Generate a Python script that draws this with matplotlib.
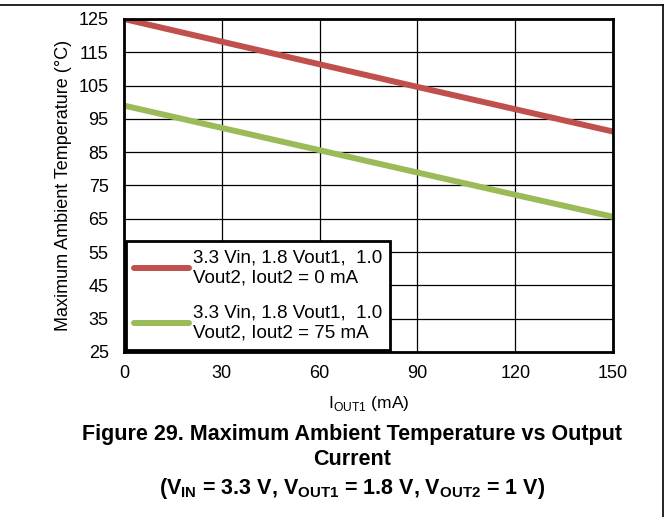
import numpy as np
import matplotlib
matplotlib.use('Agg')
import matplotlib.pyplot as plt
from matplotlib.lines import Line2D

plt.rcParams['font.family'] = ['Liberation Sans', 'DejaVu Sans']
plt.rcParams['mathtext.fontset'] = 'custom'
plt.rcParams['mathtext.rm'] = 'Liberation Sans'
plt.rcParams['mathtext.bf'] = 'Liberation Sans:bold'

# data
iout1 = [0, 30, 60, 90, 120, 150]
temp_0ma = [125, 118.2, 111.4, 104.6, 97.9, 91.2]
temp_75ma = [99, 92.3, 85.6, 78.9, 72.2, 65.6]
labels = ['3.3 Vin, 1.8 Vout1,  1.0\nVout2, Iout2 = 0 mA',
          '3.3 Vin, 1.8 Vout1,  1.0\nVout2, Iout2 = 75 mA']
xticks = [0, 30, 60, 90, 120, 150]
yticks = [25, 35, 45, 55, 65, 75, 85, 95, 105, 115, 125]

fig = plt.figure(figsize=(6.69, 5.17), dpi=100)
ax = fig.add_axes([124 / 669, 1 - 352 / 517, 489 / 669, 333 / 517])

ax.plot(iout1, temp_0ma, color='#C0504D', lw=4.3, solid_capstyle='butt', label=labels[0], zorder=3)
ax.plot(iout1, temp_75ma, color='#9BBB59', lw=4.3, solid_capstyle='butt', label=labels[1], zorder=3)

ax.set_xlim(0, 150)
ax.set_ylim(25, 125)
ax.set_xticks(xticks)
ax.set_yticks(yticks)
ax.grid(True, color='black', lw=0.9)
ax.tick_params(length=0, labelsize=13)
ax.tick_params(axis='y', pad=11)
ax.tick_params(axis='x', pad=9)
for s in ax.spines.values():
    s.set_linewidth(2)
    s.set_zorder(4)

ax.set_ylabel('Maximum Ambient Temperature (°C)', fontsize=13, labelpad=5)
ax.set_xlabel(r'I$_{\mathrm{OUT1}}$ (mA)', fontsize=12.5, labelpad=9)

leg = ax.legend(loc='lower left', bbox_to_anchor=(0.004, 0.006), fontsize=13.5,
                frameon=True, fancybox=False, framealpha=1, edgecolor='black',
                handlelength=2.9, handletextpad=0.2, borderpad=0.45,
                labelspacing=1.0, borderaxespad=0)
leg.get_frame().set_linewidth(2)
for h in leg.get_lines():
    h.set_solid_capstyle('round')
leg.set_zorder(5)

fig.text(352 / 669, 1 - 440 / 517, 'Figure 29. Maximum Ambient Temperature vs Output',
         ha='center', va='baseline', fontsize=15.5, fontweight='bold')
fig.text(352 / 669, 1 - 465 / 517, 'Current', ha='center', va='baseline',
         fontsize=15.5, fontweight='bold')
fig.text(352 / 669, 1 - 494 / 517,
         r'(V$_{\mathbf{IN}}$ = 3.3 V, V$_{\mathbf{OUT1}}$ = 1.8 V, V$_{\mathbf{OUT2}}$ = 1 V)',
         ha='center', va='baseline', fontsize=15.5, fontweight='bold')

# outer frame (top and right edges visible)
fig.add_artist(Line2D([0, 663 / 669], [1 - 4.5 / 517, 1 - 4.5 / 517], color='black', lw=1.2,
                      transform=fig.transFigure))
fig.add_artist(Line2D([663 / 669, 663 / 669], [0, 1 - 4.5 / 517], color='black', lw=1.2,
                      transform=fig.transFigure))

fig.savefig('out.png', dpi=100)
